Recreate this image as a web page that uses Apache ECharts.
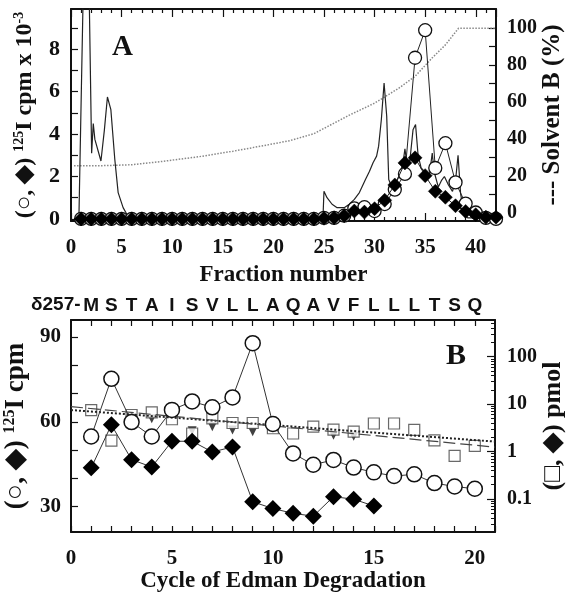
<!DOCTYPE html>
<html><head><meta charset="utf-8">
<script src="https://cdn.jsdelivr.net/npm/echarts@6/dist/echarts.min.js"></script>
<style>html,body{margin:0;padding:0;background:#fff}#c{width:571px;height:601px}</style>
</head><body><div id="c"></div>
<script>
// ---------- Panel A data ----------
const fractionNo = [1,2,3,4,5,6,7,8,9,10,11,12,13,14,15,16,17,18,19,20,21,22,23,24,25,26,27,28,29,30,31,32,33,34,35,36,37,38,39,40,41,42];
const cpmCircleA = [0,0,0,0,0,0,0,0,0,0,0,0,0,0,0,0,0,0,0,0,0,0,0,0,0.05,0.05,0.15,0.5,0.55,0.37,0.7,1.38,2.12,7.6,8.9,2.4,3.57,1.72,0.72,0.3,0.05,0];
const cpmDiamondA = [0,0,0,0,0,0,0,0,0,0,0,0,0,0,0,0,0,0,0,0,0,0,0,0,0.03,0.05,0.15,0.37,0.32,0.48,0.88,1.6,2.64,2.88,2.04,1.3,1.02,0.62,0.35,0.2,0.08,0.08];
const traceFraction = [0.78,1.2,1.5,1.8,2.04,2.2,2.36,2.96,3.3,3.6,3.94,4.33,4.66,5.15,5.6,6.0,24.9,25.0,25.3,25.8,26.3,27.0,27.5,28.0,28.5,28.8,29.1,29.5,29.85,30.2,30.4,30.67,30.94,31.2,31.4,31.7,32.0,32.4,32.8,33.0,33.2,33.5,33.8,34.05,34.3,34.6,35.0,35.4,35.7,35.9,36.3,36.6,36.9,37.3,37.7,38.0,38.25,38.5,38.8,39.2,42.0];
const traceSignal = [0,10.5,14,10.5,3.1,4.5,3.75,2.73,4.2,5.75,5.15,2.8,1.24,0.53,0.15,0.05,0.05,1.3,1.0,0.69,0.53,0.53,0.69,0.92,1.24,1.55,1.86,2.25,2.65,2.96,3.43,4.69,6.41,4.84,1.86,1.5,1.6,2.0,2.6,3.3,2.6,2.8,4.2,4.45,3.0,2.4,2.2,2.0,3.1,2.2,1.5,1.8,2.0,1.6,1.3,1.8,3.0,1.2,0.3,0.05,0.05];
const solventFraction = [0.3,3,6,9,12.7,16,19,21.6,24,27.5,30,32.4,34,35.7,37,38.3,42];
const solventB = [25.7,25.7,26.2,28,30.6,33.5,36.5,39.2,43,53,59.5,67.6,74,84,91,100,100];

// ---------- Panel B data ----------
const cycleNo = [1,2,3,4,5,6,7,8,9,10,11,12,13,14,15,16,17,18,19,20];
const sequenceLetters = ['M','S','T','A','I','S','V','L','L','A','Q','A','V','F','L','L','L','T','S','Q'];
const cpmCircleB = [54.8,75.2,59.9,54.8,64.2,67.2,65.1,68.6,87.8,59.2,48.8,44.8,46.5,43.8,42.1,40.8,41.4,38.3,37.1,36.3];
const cpmDiamondB = [43.7,58.9,46.6,44.0,53.1,53.1,49.3,51.1,31.7,29.3,27.6,26.6,33.5,32.6,30.2];
const pmolSquareB = [7.5,1.7,5.9,6.7,4.8,2.4,5.0,4.0,4.0,3.1,2.4,3.35,2.9,2.63,3.9,3.9,2.85,1.72,0.81,1.31];
const triangleCycles = [3,4,6,7,8,9,13,14];
const pmolTriangleB = [5.1,4.9,2.75,3.35,2.85,2.6,2.2,2.1];
const fitCycles = [0,21];
const fitDotted = [7.5,1.62];
const fitDashed = [8.85,1.24];

// tick label values
const leftTicksA = [0,1,2,3,4,5,6,7,8,9];
const leftLabelsA = [0,2,4,6,8];
const rightTicksA = [0,10,20,30,40,50,60,70,80,90,100];
const rightLabelsA = [0,20,40,60,80,100];
const leftTicksB = [30,40,50,60,70,80,90];
const leftLabelsB = [30,60,90];
const rightMajorB = [0.1,1,10,100];
const rightMinorB = [0.03,0.04,0.05,0.06,0.07,0.08,0.09,0.2,0.3,0.4,0.5,0.6,0.7,0.8,0.9,2,3,4,5,6,7,8,9,20,30,40,50,60,70,80,90,200,300,400,500];

const pairs = (xs, ys) => xs.map((x, i) => [x, ys[i]]);

const SERIF = "'Liberation Serif','Times New Roman',serif";
const SANS = "'Liberation Sans Narrow','Liberation Sans',Arial,sans-serif";
const INK = '#111';
const axisLine = {show: true, onZero: false, lineStyle: {color: INK, width: 2}};
const lbl = (size) => ({color: INK, fontFamily: SERIF, fontWeight: 'bold', fontSize: size});
const richFor = (size) => ({
  t: {fontFamily: SERIF, fontWeight: 'bold', fontSize: size, color: INK},
  s: {fontFamily: SERIF, fontWeight: 'bold', fontSize: Math.round(size * 0.58), color: INK, verticalAlign: 'top', padding: [0,0,Math.round(size * 0.45),0]}
});

const chart = echarts.init(document.getElementById('c'), null, {renderer: 'canvas'});
chart.setOption({
  animation: false,
  backgroundColor: '#fff',
  grid: [
    {left: 71, top: 9, width: 425, height: 212, containLabel: false, outerBoundsMode: 'none'},
    {left: 71, top: 320, width: 424, height: 212, containLabel: false, outerBoundsMode: 'none'},
    {left: 71, top: 320, width: 424, height: 212, containLabel: false, outerBoundsMode: 'none'}
  ],
  xAxis: [
    {gridIndex: 0, type: 'value', position: 'bottom', min: 0, max: 42, interval: 5,
     axisLine, splitLine: {show: false},
     axisTick: {inside: true, length: 8, lineStyle: {color: INK, width: 1.2}},
     minorTick: {show: true, splitNumber: 5, length: 4, lineStyle: {color: INK, width: 1.2}},
     axisLabel: Object.assign(lbl(21), {margin: 16, customValues: [0,5,10,15,20,25,30,35,40]}),
     name: 'Fraction number', nameLocation: 'middle', nameGap: 43,
     nameTextStyle: lbl(23)},
    {gridIndex: 0, type: 'value', position: 'top', min: 0, max: 42, interval: 5,
     axisLine, splitLine: {show: false},
     axisTick: {inside: true, length: 8, lineStyle: {color: INK, width: 1.2}},
     minorTick: {show: true, splitNumber: 5, length: 4, lineStyle: {color: INK, width: 1.2}},
     axisLabel: {show: false}},
    {gridIndex: 1, type: 'value', position: 'bottom', min: 0, max: 21, interval: 5,
     axisLine, splitLine: {show: false},
     axisTick: {inside: true, length: 6, lineStyle: {color: INK, width: 1.2}},
     minorTick: {show: true, splitNumber: 5, length: 6, lineStyle: {color: INK, width: 1.2}},
     axisLabel: Object.assign(lbl(21), {margin: 16, customValues: [0,5,10,15,20]}),
     name: 'Cycle of Edman Degradation', nameLocation: 'middle', nameGap: 38,
     nameTextStyle: lbl(23)},
    {gridIndex: 1, type: 'value', position: 'top', min: 0, max: 21,
     axisLine, splitLine: {show: false},
     axisTick: {inside: true, length: 6, lineStyle: {color: INK, width: 1.2}, customValues: cycleNo},
     axisLabel: {show: true, margin: 5, customValues: cycleNo, color: INK, fontFamily: SANS, fontWeight: 'bold', fontSize: 19,
       formatter: (v) => sequenceLetters[Math.round(v) - 1] || ''}},
    {gridIndex: 2, type: 'value', position: 'bottom', min: 0, max: 21, show: false}
  ],
  yAxis: [
    {gridIndex: 0, type: 'value', position: 'left', min: -0.1, max: 9.9,
     axisLine, splitLine: {show: false},
     axisTick: {inside: true, length: 7, lineStyle: {color: INK, width: 1.2}, customValues: leftTicksA},
     axisLabel: Object.assign(lbl(22), {margin: 11, customValues: leftLabelsA}),
     name: '{t|(○, ◆) }{s|125}{t|I cpm x 10}{s|-3}', nameLocation: 'middle', nameRotate: 90, nameGap: 34,
     nameTextStyle: {rich: richFor(24)}},
    {gridIndex: 0, type: 'value', position: 'right', min: -4.2, max: 110.4,
     axisLine, splitLine: {show: false},
     axisTick: {inside: true, length: 7, lineStyle: {color: INK, width: 1.2}, customValues: rightTicksA},
     axisLabel: Object.assign(lbl(20), {margin: 11, customValues: rightLabelsA}),
     name: '--- Solvent B (%)', nameLocation: 'middle', nameRotate: 90, nameGap: 44, nameMoveOverlap: false,
     nameTextStyle: lbl(25)},
    {gridIndex: 1, type: 'value', position: 'left', min: 21, max: 96,
     axisLine, splitLine: {show: false},
     axisTick: {inside: true, length: 7, lineStyle: {color: INK, width: 1.2}, customValues: leftTicksB},
     axisLabel: Object.assign(lbl(21), {margin: 10, customValues: leftLabelsB}),
     name: '{t|(○, ◆) }{s|125}{t|I cpm}', nameLocation: 'middle', nameRotate: 90, nameGap: 33,
     nameTextStyle: {rich: richFor(27)}},
    {gridIndex: 1, type: 'log', logBase: 10, position: 'right', min: 0.0201, max: 594,
     axisLine, splitLine: {show: false},
     axisTick: {inside: true, length: 8, lineStyle: {color: INK, width: 1.2}, customValues: rightMajorB},
     axisLabel: Object.assign(lbl(20), {margin: 12, customValues: rightMajorB, formatter: (v) => String(+v.toPrecision(3))}),
     name: '{t|(□, ◆) pmol}', nameLocation: 'middle', nameRotate: 90, nameGap: 45, nameMoveOverlap: false,
     nameTextStyle: {rich: richFor(26)}},
    {gridIndex: 2, type: 'log', logBase: 10, position: 'right', min: 0.0201, max: 594,
     axisLine: {show: false, onZero: false}, splitLine: {show: false},
     axisTick: {show: true, inside: true, length: 4, lineStyle: {color: INK, width: 1}, customValues: rightMinorB},
     axisLabel: {show: false}}
  ],
  graphic: [
    {type: 'text', left: 112, top: 33, style: {text: 'A', font: "bold 29px 'Liberation Serif', serif", fill: INK}},
    {type: 'text', left: 446, top: 341, style: {text: 'B', font: "bold 30px 'Liberation Serif', serif", fill: INK}},
    {type: 'text', left: 31, top: 295, style: {text: 'δ257-', font: "bold 19px 'Liberation Sans Narrow','Liberation Sans',sans-serif", fill: INK}}
  ],
  series: [
    // Panel A
    {type: 'line', xAxisIndex: 0, yAxisIndex: 1, data: pairs(solventFraction, solventB), showSymbol: false,
     lineStyle: {color: '#888', width: 1.5, type: 'dotted'}, z: 1, silent: true},
    {type: 'line', xAxisIndex: 0, yAxisIndex: 0, data: pairs(traceFraction, traceSignal), showSymbol: false,
     lineStyle: {color: '#222', width: 1.2}, z: 2, clip: true, silent: true},
    {type: 'line', xAxisIndex: 0, yAxisIndex: 0, data: pairs(fractionNo, cpmCircleA), symbol: 'circle', symbolSize: 13,
     itemStyle: {color: '#fff', borderColor: INK, borderWidth: 1.3}, lineStyle: {color: '#222', width: 1}, z: 3},
    {type: 'line', xAxisIndex: 0, yAxisIndex: 0, data: pairs(fractionNo, cpmDiamondA), symbol: 'diamond', symbolSize: 14,
     itemStyle: {color: '#000', borderColor: '#000', borderWidth: 0.5}, lineStyle: {color: '#222', width: 1}, z: 4},
    // Panel B
    {type: 'scatter', xAxisIndex: 2, yAxisIndex: 3, data: pairs(triangleCycles, pmolTriangleB), symbol: 'triangle', symbolRotate: 180, symbolSize: 9,
     itemStyle: {color: '#111'}, z: 2},
    {type: 'scatter', xAxisIndex: 2, yAxisIndex: 3, data: pairs(cycleNo, pmolSquareB), symbol: 'rect', symbolSize: 11,
     itemStyle: {color: '#fff', borderColor: '#444', borderWidth: 1.2}, z: 3},
    {type: 'line', xAxisIndex: 2, yAxisIndex: 3, data: pairs(fitCycles, fitDotted), showSymbol: false,
     lineStyle: {color: '#222', width: 2, type: 'dotted'}, z: 4, silent: true},
    {type: 'line', xAxisIndex: 2, yAxisIndex: 3, data: pairs(fitCycles, fitDashed), showSymbol: false,
     lineStyle: {color: '#444', width: 1.2, type: [12, 5]}, z: 4, silent: true},
    {type: 'line', xAxisIndex: 2, yAxisIndex: 2, data: pairs(cycleNo, cpmCircleB), symbol: 'circle', symbolSize: 15,
     itemStyle: {color: '#fff', borderColor: INK, borderWidth: 1.5}, lineStyle: {color: '#333', width: 1}, z: 5},
    {type: 'line', xAxisIndex: 2, yAxisIndex: 2, data: pairs(cycleNo.slice(0, cpmDiamondB.length), cpmDiamondB), symbol: 'diamond', symbolSize: 17,
     itemStyle: {color: '#000'}, lineStyle: {color: '#333', width: 1}, z: 6}
  ]
});
</script></body></html>
